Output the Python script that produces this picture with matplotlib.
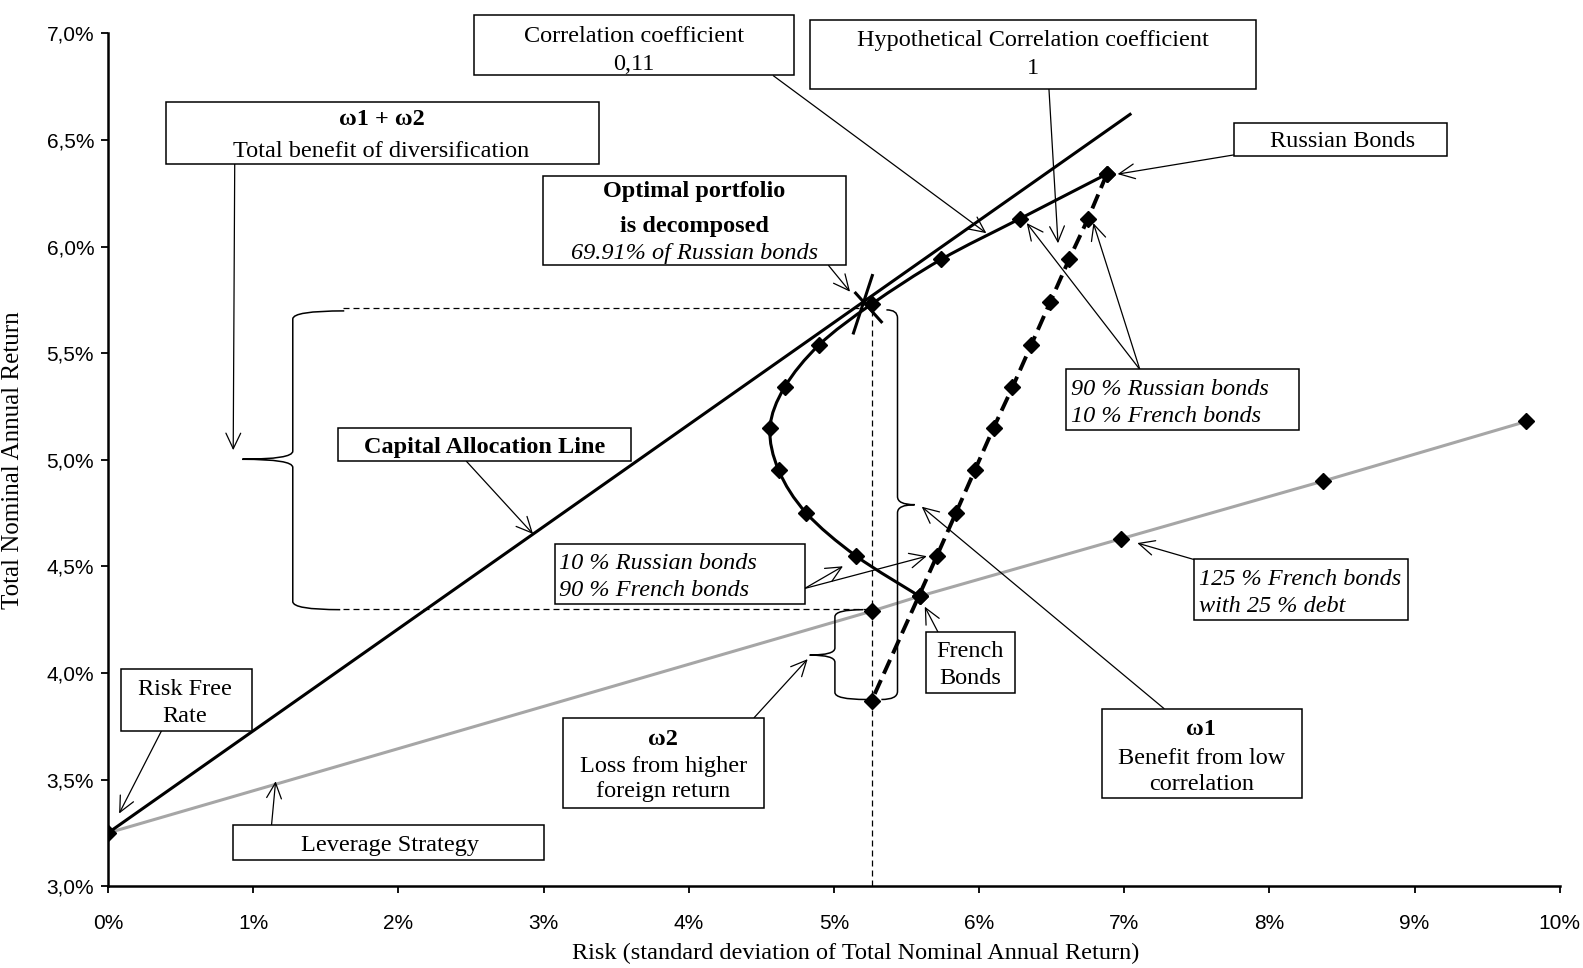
import matplotlib
matplotlib.use("Agg")
import matplotlib.pyplot as plt
from matplotlib.path import Path
from matplotlib.patches import PathPatch, Rectangle, FancyArrowPatch
from matplotlib.ticker import FixedLocator, FuncFormatter

# ---------------- data (percent) ----------------
russian_share = [100, 90, 80, 70, 60, 50, 40, 30, 20, 10, 0]
risk_corr011 = [6.88, 6.28, 5.74, 5.26, 4.90, 4.66, 4.56, 4.62, 4.81, 5.15, 5.59]
ret_corr011 = [6.34, 6.13, 5.94, 5.73, 5.54, 5.34, 5.15, 4.95, 4.75, 4.55, 4.36]
risk_corr1 = [6.88, 6.75, 6.62, 6.49, 6.36, 6.23, 6.10, 5.97, 5.84, 5.71, 5.26]
ret_corr1 = [6.34, 6.13, 5.94, 5.74, 5.54, 5.34, 5.15, 4.95, 4.75, 4.55, 3.87]
lev_risk = [0.0, 5.26, 5.59, 6.98, 8.37, 9.77]
lev_ret = [3.25, 4.29, 4.36, 4.63, 4.90, 5.18]
cal_risk = [0.0, 7.04]
cal_ret = [3.25, 6.62]
opt_risk = [5.21]
opt_ret = [5.74]
x_ticks = [0, 1, 2, 3, 4, 5, 6, 7, 8, 9, 10]
y_ticks = [3.0, 3.5, 4.0, 4.5, 5.0, 5.5, 6.0, 6.5, 7.0]

SERIF = "Liberation Serif"
SANS = "Liberation Sans"
FS = 17.5

W, H = 1568.0, 959.0


def F(x, y):
    return (x / W, 1 - y / H)


fig = plt.figure(figsize=(15.83, 9.68), dpi=100)
ax = fig.add_axes([107 / W, 1 - 878 / H, (1545 - 107) / W, (878 - 33) / H])
ax.set_xlim(0, 10)
ax.set_ylim(3.0, 7.0)
for s in ["top", "right"]:
    ax.spines[s].set_visible(False)
for s in ["left", "bottom"]:
    ax.spines[s].set_linewidth(1.8)
ax.xaxis.set_major_locator(FixedLocator(x_ticks))
ax.yaxis.set_major_locator(FixedLocator(y_ticks))
ax.xaxis.set_major_formatter(FuncFormatter(lambda v, p: f"{int(round(v))}%"))
ax.yaxis.set_major_formatter(FuncFormatter(lambda v, p: f"{v:.1f}".replace(".", ",") + "%"))
ax.tick_params(axis="both", direction="out", length=5, width=1.3, labelsize=15)
ax.tick_params(axis="x", pad=15)
ax.tick_params(axis="y", pad=5)
for lab in ax.get_xticklabels() + ax.get_yticklabels():
    lab.set_fontfamily(SANS)
ax.set_xlabel("Risk (standard deviation of Total Nominal Annual Return)",
              fontfamily=SERIF, fontsize=17.5)
ax.set_ylabel("Total Nominal Annual Return", fontfamily=SERIF, fontsize=18)
ax.xaxis.set_label_coords(0.515, -0.066)
ax.yaxis.set_label_coords(-0.058, 0.5)

# ---------------- guide dashed lines ----------------
guide_style = dict(color="black", lw=0.9, ls=(0, (4.8, 3.2)), zorder=2)
ax.plot([risk_corr1[-1], risk_corr1[-1]], [3.0, ret_corr011[3]], **guide_style)
ax.plot([1.62, opt_risk[0]], [5.71, 5.71], **guide_style)
ax.plot([1.62, risk_corr1[-1]], [4.30, 4.30], **guide_style)

# ---------------- series ----------------
ax.plot(lev_risk, lev_ret, color="#a6a6a6", lw=2.2, zorder=3)
ax.plot(lev_risk, lev_ret, ls="none", marker="D", ms=8.5, color="black", zorder=6)

ax.plot(cal_risk, cal_ret, color="black", lw=2.2, zorder=4)

# smooth (Excel-like) frontier for correlation 0.11
pts = list(zip(risk_corr011, ret_corr011))
verts = [pts[0]]
codes = [Path.MOVETO]
n = len(pts)
for i in range(n - 1):
    p0 = pts[i - 1] if i > 0 else pts[i]
    p1 = pts[i]
    p2 = pts[i + 1]
    p3 = pts[i + 2] if i + 2 < n else pts[i + 1]
    c1 = (p1[0] + (p2[0] - p0[0]) / 6, p1[1] + (p2[1] - p0[1]) / 6)
    c2 = (p2[0] - (p3[0] - p1[0]) / 6, p2[1] - (p3[1] - p1[1]) / 6)
    verts += [c1, c2, p2]
    codes += [Path.CURVE4] * 3
ax.add_patch(PathPatch(Path(verts, codes), fill=False, lw=2.2, edgecolor="black", zorder=4))
ax.plot(risk_corr011, ret_corr011, ls="none", marker="D", ms=8.5, color="black", zorder=6)

ax.plot(risk_corr1, ret_corr1, color="black", lw=2.8, ls=(0, (3.9, 1.8)), zorder=4)
ax.plot(risk_corr1, ret_corr1, ls="none", marker="D", ms=8.5, color="black", zorder=6)

xmark = Path([(-0.36, -1.0), (0.26, 0.89), (-0.31, 0.33), (0.56, -0.64)],
             [Path.MOVETO, Path.LINETO, Path.MOVETO, Path.LINETO])
ax.plot(opt_risk, opt_ret, ls="none", marker=xmark, ms=46, mew=2.2, color="black",
        fillstyle="none", zorder=7)

# ---------------- text boxes ----------------
def box(x0, y0, x1, y1):
    fig.add_artist(Rectangle(F(x0, y1), (x1 - x0) / W, (y1 - y0) / H,
                             transform=fig.transFigure, facecolor="white",
                             edgecolor="black", lw=1.1, zorder=8))


def txt(x, y, s, weight="normal", style="normal", ha="center", size=FS):
    fig.text(*F(x, y), s, ha=ha, va="center", fontfamily=SERIF, fontsize=size,
             fontweight=weight, fontstyle=style, zorder=9)


box(470, 15, 786, 74)
txt(628, 36, "Correlation coefficient")
txt(628, 64, "0,11")

box(802, 20, 1244, 88)
txt(1023, 40, "Hypothetical Correlation coefficient")
txt(1023, 68, "1")

box(164, 101, 593, 162)
txt(378, 118, "ω1 + ω2", weight="bold")
txt(378, 150, "Total benefit of diversification")

box(1222, 122, 1433, 155)
txt(1330, 140, "Russian Bonds")

box(538, 174, 838, 263)
txt(688, 190, "Optimal portfolio", weight="bold")
txt(688, 224, "is decomposed", weight="bold")
txt(688, 251, "69.91% of Russian bonds", style="italic")

box(1056, 366, 1287, 426)
txt(1061, 386, "90 % Russian bonds", style="italic", ha="left")
txt(1061, 413, "10 % French bonds", style="italic", ha="left")

box(335, 424, 625, 457)
txt(480, 443, "Capital Allocation Line", weight="bold")

box(550, 539, 797, 598)
txt(554, 558, "10 % Russian bonds", style="italic", ha="left")
txt(554, 585, "90 % French bonds", style="italic", ha="left")

box(1183, 554, 1395, 614)
txt(1188, 574, "125 % French bonds", style="italic", ha="left")
txt(1188, 601, "with 25 % debt", style="italic", ha="left")

box(917, 626, 1005, 687)
txt(961, 645, "French")
txt(961, 672, "Bonds")

box(120, 663, 250, 724)
txt(183, 683, "Risk Free")
txt(183, 710, "Rate")

box(558, 711, 757, 800)
txt(657, 733, "ω2", weight="bold")
txt(657, 759, "Loss from higher")
txt(657, 784, "foreign return")

box(1092, 702, 1290, 791)
txt(1190, 723, "ω1", weight="bold")
txt(1190, 751, "Benefit from low")
txt(1190, 777, "correlation")

box(231, 817, 539, 852)
txt(386, 838, "Leverage Strategy")

# ---------------- arrows ----------------
def arrow(tail, tip):
    fig.add_artist(FancyArrowPatch(F(*tail), F(*tip), transform=fig.transFigure,
                                   arrowstyle="->,head_length=0.8,head_width=0.38",
                                   mutation_scale=14, lw=0.9, color="black",
                                   shrinkA=0, shrinkB=0, zorder=7))


arrow((766, 75), (977, 231))
arrow((1039, 88), (1048, 241))
arrow((232.5, 162), (231, 446))
arrow((1222, 153.5), (1107, 172.5))
arrow((820.7, 263), (842, 289))
arrow((1129, 366), (1083, 221))
arrow((1129, 366), (1017, 221))
arrow((462, 457), (528, 529))
arrow((797, 583), (835, 561))
arrow((797, 583), (918, 551))
arrow((929, 626), (916, 601))
arrow((1185, 555), (1126.5, 538))
arrow((1153, 702), (913, 502))
arrow((747, 711), (800, 653))
arrow((160, 724), (118, 806))
arrow((269, 817), (273, 774))

# ---------------- braces ----------------
def brace(xline, ytop, ybot, xend_top, xend_bot, tipx, tipy, r=8):
    v = [(xend_top, ytop), (xline, ytop), (xline, ytop + r),
         (xline, tipy - r), (xline, tipy), (tipx, tipy),
         (xline, tipy), (xline, tipy + r),
         (xline, ybot - r), (xline, ybot), (xend_bot, ybot)]
    c = [Path.MOVETO, Path.CURVE3, Path.CURVE3,
         Path.LINETO, Path.CURVE3, Path.CURVE3,
         Path.CURVE3, Path.CURVE3,
         Path.LINETO, Path.CURVE3, Path.CURVE3]
    v = [F(x, y) for x, y in v]
    fig.add_artist(PathPatch(Path(v, c), transform=fig.transFigure, fill=False,
                             lw=1.1, edgecolor="black", zorder=7))


brace(290, 308, 604, 341, 337, 240, 455)
brace(827, 604, 693, 855, 858, 802, 649, r=7)
brace(889, 307, 693, 878, 873, 906, 500)

fig.savefig("out.png", dpi=100)
